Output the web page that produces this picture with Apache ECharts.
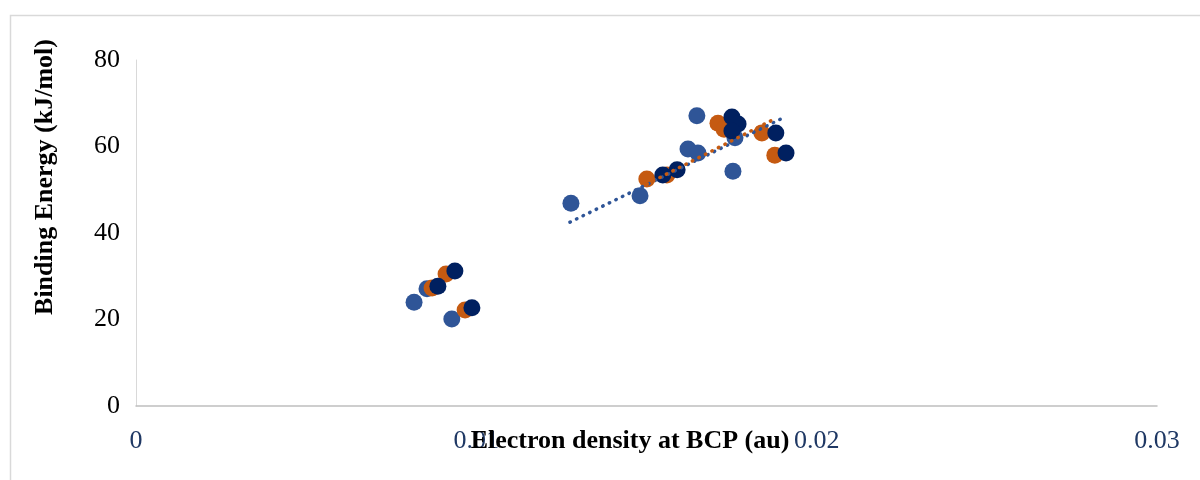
<!DOCTYPE html>
<html>
<head>
<meta charset="utf-8">
<script src="https://cdn.jsdelivr.net/npm/echarts@6/dist/echarts.min.js"></script>
<style>
  html, body { margin: 0; padding: 0; background: #fff; }
  #chart { width: 1200px; height: 480px; }
</style>
</head>
<body>
<div id="chart"></div>
<script>
// Electron density at the bond critical point (au) vs. binding energy (kJ/mol)
const xTicks = [0, 0.01, 0.02, 0.03];
const yTicks = [0, 20, 40, 60, 80];

// Weakly bound complexes
const blueLow   = [[0.00817, 24.0], [0.00928, 20.1], [0.00855, 27.1]];
const orangeLow = [[0.00911, 30.5], [0.00870, 27.3], [0.00967, 22.2]];
const navyLow   = [[0.00937, 31.2], [0.00887, 27.7], [0.00987, 22.7]];

// Strongly bound complexes
const blueHigh   = [[0.01278, 46.9], [0.01481, 48.6], [0.01648, 67.1], [0.01622, 59.4],
                    [0.01651, 58.5], [0.01760, 62.0], [0.01754, 54.3]];
const orangeHigh = [[0.01501, 52.5], [0.01560, 53.4], [0.01710, 65.4], [0.01728, 64.0],
                    [0.01839, 63.1], [0.01877, 58.0]];
const navyHigh   = [[0.01548, 53.4], [0.01590, 54.6], [0.01751, 66.8], [0.01769, 65.2],
                    [0.01751, 63.6], [0.01880, 63.1], [0.01910, 58.5]];

// Linear trendlines (start and end points)
const blueTrend   = [[0.01275, 42.5], [0.01901, 66.6]];
const orangeTrend = [[0.01501, 51.3], [0.01877, 66.4]];

const BLUE = '#2F5597', ORANGE = '#C55A11', NAVY = '#002060';
const SERIF = '"Liberation Serif", "Times New Roman", serif';

function scatter(data, color, z) {
  return {
    type: 'scatter', data: data, symbol: 'circle', symbolSize: 17,
    itemStyle: { color: color, opacity: 1 }, z: z, silent: true
  };
}
function trend(data, color) {
  return {
    type: 'line', data: data, symbol: 'none', z: 10, silent: true,
    lineStyle: { color: color, width: 3.5, type: [0.5, 6.8], cap: 'round' }
  };
}

const chart = echarts.init(document.getElementById('chart'), null, { renderer: 'canvas' });
chart.setOption({
  animation: false,
  backgroundColor: '#ffffff',
  grid: { left: 136, right: 43, top: 60, bottom: 74 },
  xAxis: {
    type: 'value', min: xTicks[0], max: xTicks[xTicks.length - 1], interval: 0.01,
    axisLine: { show: true, lineStyle: { color: '#BFBFBF', width: 1.5 } },
    axisTick: { show: false },
    splitLine: { show: false },
    axisLabel: {
      color: '#1F3864', fontFamily: SERIF, fontSize: 26, margin: 22,
      formatter: v => String(+v.toFixed(2))
    }
  },
  yAxis: {
    type: 'value', min: yTicks[0], max: yTicks[yTicks.length - 1], interval: 20,
    axisLine: { show: true, lineStyle: { color: '#D9D9D9', width: 1 } },
    axisTick: { show: false },
    splitLine: { show: false },
    axisLabel: { color: '#000', fontFamily: SERIF, fontSize: 26, margin: 16 }
  },
  graphic: [
    {
      type: 'rect', silent: true, z: -1,
      shape: { x: 10.5, y: 15.5, width: 1200, height: 480 },
      style: { fill: null, stroke: '#D9D9D9', lineWidth: 1.5 }
    },
    {
      type: 'text', x: 45, y: 177, rotation: Math.PI / 2, z: 20,
      style: {
        text: 'Binding Energy (kJ/mol)', fill: '#000',
        font: 'bold 26px ' + SERIF, align: 'center', verticalAlign: 'middle'
      }
    },
    {
      type: 'text', x: 630, y: 441, z: 20,
      style: {
        text: 'Electron density at BCP (au)', fill: '#000',
        font: 'bold 26px ' + SERIF, align: 'center', verticalAlign: 'middle'
      }
    }
  ],
  series: [
    scatter(blueLow, BLUE, 2), scatter(blueHigh, BLUE, 2),
    scatter(orangeLow, ORANGE, 3), scatter(orangeHigh, ORANGE, 3),
    scatter(navyLow, NAVY, 4), scatter(navyHigh, NAVY, 4),
    trend(blueTrend, BLUE), trend(orangeTrend, ORANGE)
  ]
});
</script>
</body>
</html>
